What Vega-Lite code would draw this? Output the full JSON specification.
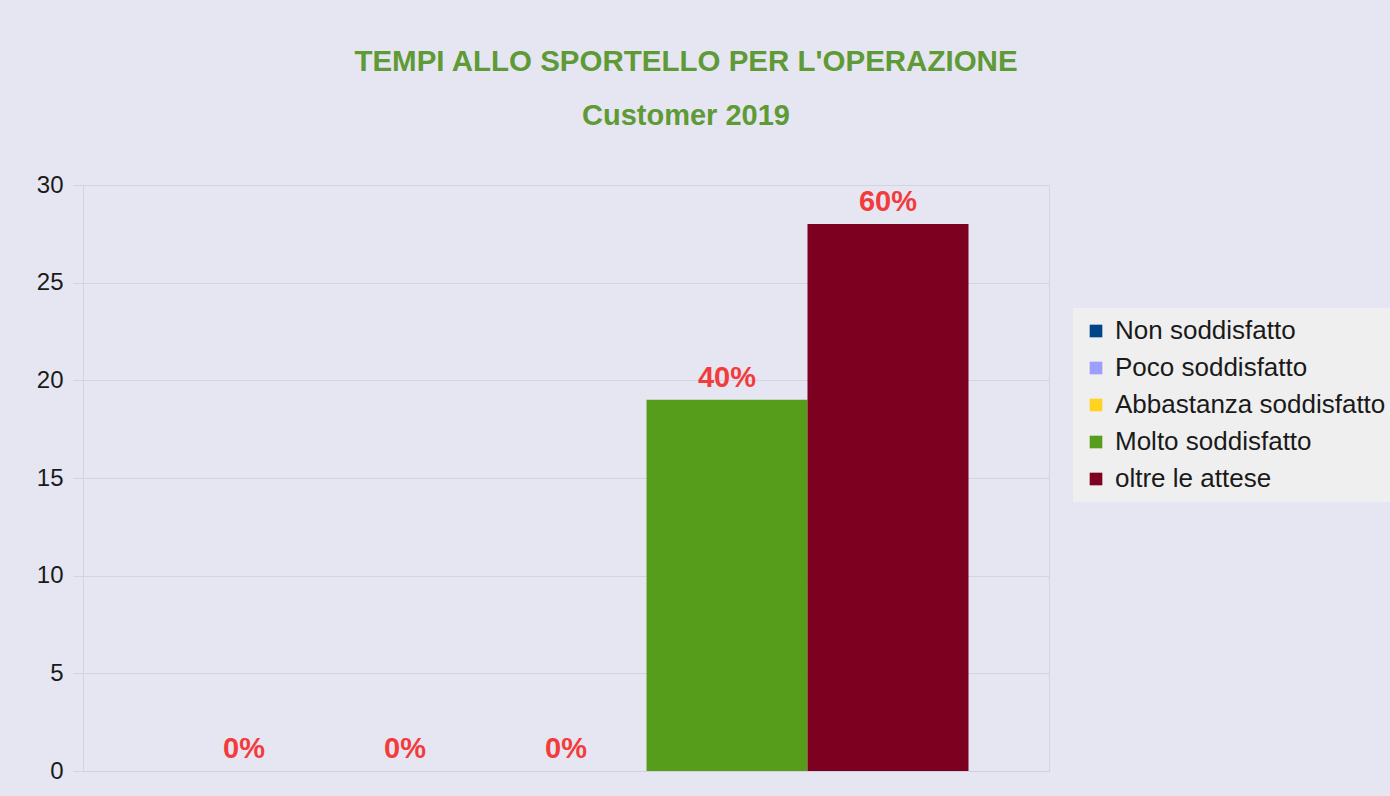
{
  "$schema": "https://vega.github.io/schema/vega-lite/v6.json",
  "width": 966,
  "height": 586,
  "padding": {"left": 36, "top": 46, "right": 0, "bottom": 40},
  "background": "#e6e6f2",
  "title": {
    "text": "TEMPI ALLO SPORTELLO PER L'OPERAZIONE",
    "subtitle": "Customer 2019",
    "anchor": "middle",
    "frame": "group",
    "dx": 120,
    "font": "Liberation Sans",
    "fontSize": 29.5,
    "fontWeight": "bold",
    "color": "#5e9a35",
    "subtitleFont": "Liberation Sans",
    "subtitleFontSize": 29,
    "subtitleFontWeight": "bold",
    "subtitleColor": "#5e9a35",
    "subtitlePadding": 25,
    "offset": 41,
    "baseline": "top"
  },
  "data": {
    "values": [
      {"serie": "Non soddisfatto", "valore": 0, "percentuale": "0%"},
      {"serie": "Poco soddisfatto", "valore": 0, "percentuale": "0%"},
      {"serie": "Abbastanza soddisfatto", "valore": 0, "percentuale": "0%"},
      {"serie": "Molto soddisfatto", "valore": 19, "percentuale": "40%"},
      {"serie": "oltre le attese", "valore": 28, "percentuale": "60%"}
    ]
  },
  "encoding": {
    "x": {
      "field": "serie",
      "type": "nominal",
      "sort": null,
      "scale": {"paddingInner": 0, "paddingOuter": 0.5},
      "axis": {"labels": false, "ticks": false, "title": null, "domainColor": "#cfcfdf", "domainWidth": 1}
    },
    "y": {
      "field": "valore",
      "type": "quantitative",
      "scale": {"domain": [0, 30], "nice": false},
      "axis": {
        "values": [0, 5, 10, 15, 20, 25, 30],
        "title": null,
        "grid": true,
        "gridColor": "#d3d3e3",
        "domain": true,
        "domainColor": "#d3d3e3",
        "tickColor": "#d3d3e3",
        "tickSize": 10,
        "labelPadding": 10,
        "labelFont": "Liberation Sans",
        "labelFontSize": 24,
        "labelColor": "#1a1a1a"
      }
    }
  },
  "layer": [
    {
      "mark": {"type": "bar"},
      "encoding": {
        "color": {
          "field": "serie",
          "type": "nominal",
          "sort": null,
          "scale": {
            "domain": ["Non soddisfatto", "Poco soddisfatto", "Abbastanza soddisfatto", "Molto soddisfatto", "oltre le attese"],
            "range": ["#004586", "#9d9dfb", "#ffd320", "#579d1c", "#7e0021"]
          },
          "legend": {
            "title": null,
            "orient": "none",
            "legendX": 990,
            "legendY": 123,
            "fillColor": "#efefef",
            "padding": 10,
            "symbolType": "square",
            "symbolSize": 160,
            "symbolStrokeWidth": 0,
            "labelFont": "Liberation Sans",
            "labelFontSize": 26,
            "labelColor": "#1a1a1a",
            "labelOffset": 6,
            "labelLimit": 400,
            "rowPadding": 11
          }
        }
      }
    },
    {
      "mark": {
        "type": "text",
        "baseline": "alphabetic",
        "dy": -13,
        "font": "Liberation Sans",
        "fontSize": 29,
        "fontWeight": "bold",
        "color": "#f23c3c"
      },
      "encoding": {
        "text": {"field": "percentuale"}
      }
    }
  ],
  "config": {
    "view": {"stroke": "#d3d3e3"}
  }
}
